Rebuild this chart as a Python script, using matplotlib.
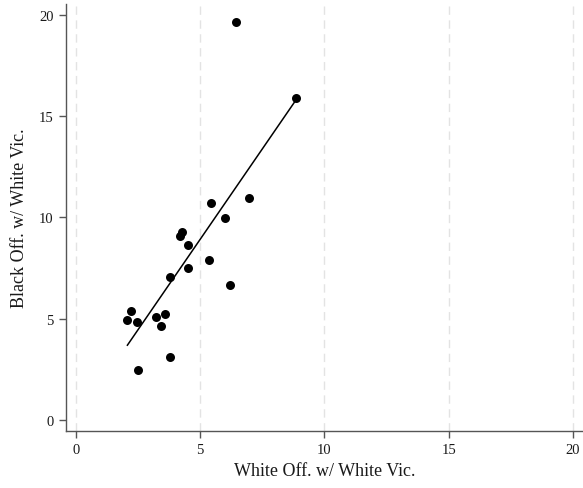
import numpy as np
import matplotlib.pyplot as plt

plt.rcParams['font.family'] = ['Liberation Serif', 'DejaVu Serif']

# white offender / white victim vs black offender / white victim
white_off = [8.85, 5.42, 6.96, 5.98, 4.28, 4.20, 4.51, 5.37, 4.51, 3.78,
             6.20, 2.23, 2.07, 2.47, 3.23, 3.59, 3.43, 3.78, 2.49, 6.44]
black_off = [15.9, 10.70, 10.96, 9.97, 9.27, 9.07, 8.64, 7.90, 7.49, 7.08,
             6.65, 5.40, 4.95, 4.84, 5.09, 5.22, 4.66, 3.13, 2.47, 19.65]
x_ticks = [0, 5, 10, 15, 20]
y_ticks = [0, 5, 10, 15, 20]

x = np.array(white_off)
y = np.array(black_off)

fig = plt.figure(figsize=(5.83, 4.89), dpi=100)
ax = fig.add_axes([0.1132, 0.1166, 0.8868, 0.8733])

for xt in x_ticks:
    ax.axvline(xt, color='#e3e3e3', lw=1.0, ls=(0, (6, 4)), zorder=0)

# fit through the origin (no constant), all points
slope = np.sum(x * y) / np.sum(x * x)
xf = np.array([x.min(), x.max()])
ax.plot(xf, slope * xf, color='black', lw=1.1, zorder=2)

ax.scatter(x, y, s=42, color='black', zorder=3, linewidths=0)

ax.set_xlim(-0.4, 20.4)
ax.set_ylim(-0.54, 20.54)
ax.set_xticks(x_ticks)
ax.set_yticks(y_ticks)

for s in ['top', 'right']:
    ax.spines[s].set_visible(False)
for s in ['left', 'bottom']:
    ax.spines[s].set_color('#555555')
    ax.spines[s].set_linewidth(1.0)
ax.tick_params(direction='out', length=5, width=1, color='#555555',
               labelsize=10.5, labelcolor='#1a1a1a', pad=4)

ax.set_xlabel('White Off. w/ White Vic.', fontsize=13, color='#1a1a1a', labelpad=4)
ax.set_ylabel('Black Off. w/ White Vic.', fontsize=13, color='#1a1a1a', labelpad=8)

fig.savefig('out.png', dpi=100)
